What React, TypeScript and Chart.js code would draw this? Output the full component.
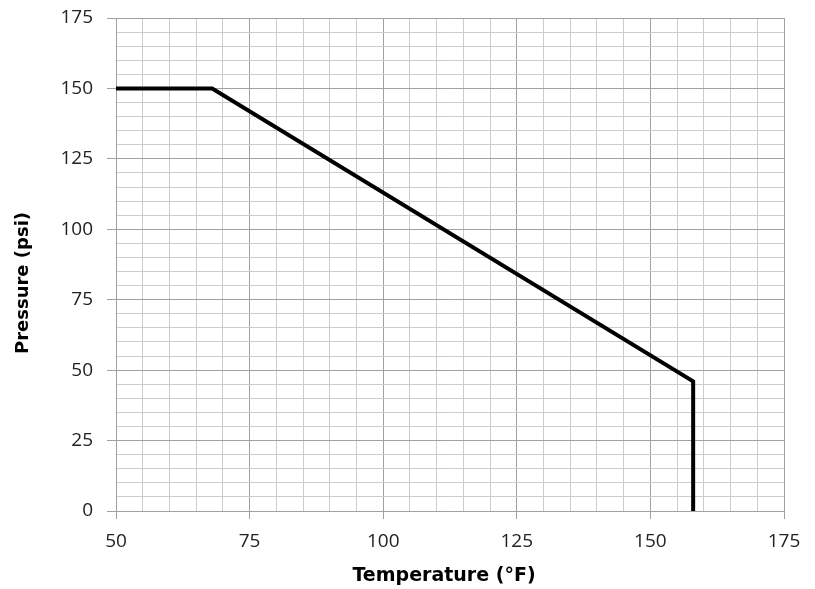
import React, { useEffect, useRef } from "react";
import { Chart, registerables } from "chart.js";

Chart.register(...registerables);

const temperatureF = [50, 68, 158, 158];
const pressurePsi = [150, 150, 46, 0];
const xTicks = [50, 75, 100, 125, 150, 175];
const yTicks = [0, 25, 50, 75, 100, 125, 150, 175];
const xTitle = "Temperature (°F)";
const yTitle = "Pressure (psi)";

const MAJOR = "#a0a0a0";
const MINOR = "#cccccc";
const FONT = "'Open Sans', sans-serif";

const titlesPlugin = {
  id: "titlesPlugin",
  afterDraw(chart: any) {
    const c = chart.ctx;
    c.save();
    c.fillStyle = "#000";
    c.textAlign = "center";
    c.textBaseline = "alphabetic";
    c.font = "bold 19px 'DejaVu Sans', sans-serif";
    c.fillText(xTitle, 444, 581);
    c.font = "bold 18px 'DejaVu Sans', sans-serif";
    c.translate(28, 283);
    c.rotate(-Math.PI / 2);
    c.fillText(yTitle, 0, 0);
    c.restore();
  },
};

export default function App() {
  const ref = useRef<HTMLCanvasElement | null>(null);
  useEffect(() => {
    document.body.style.margin = "0";
    if (!ref.current) return;
    const data = temperatureF.map((x, i) => ({ x, y: pressurePsi[i] }));
    const isMajor = (v: number) => Math.abs(v % 25) < 1e-6;
    const chart = new Chart(ref.current, {
      type: "scatter",
      data: {
        datasets: [
          {
            data,
            showLine: true,
            borderColor: "#000",
            borderWidth: 4,
            pointRadius: 0,
            borderJoinStyle: "miter",
            tension: 0,
          },
        ],
      },
      options: {
        animation: false,
        responsive: false,
        layout: { padding: { left: 0, top: 18, right: 31, bottom: 0 } },
        plugins: { legend: { display: false }, tooltip: { enabled: false } },
        scales: {
          x: {
            type: "linear",
            min: xTicks[0],
            max: xTicks[xTicks.length - 1],
            afterFit: (s: any) => {
              s.height = 78;
              s.paddingLeft = 0;
              s.paddingRight = 0;
              s.paddingTop = 0;
              s.paddingBottom = 0;
            },
            ticks: {
              stepSize: 5,
              autoSkip: false,
              maxRotation: 0,
              padding: 11,
              color: "#222",
              font: { family: FONT, size: 19 },
              callback: (v: any) => (xTicks.includes(Number(v)) ? String(v) : ""),
            },
            grid: {
              color: (ctx: any) => (isMajor(ctx.tick?.value ?? 0) ? MAJOR : MINOR),
              tickColor: (ctx: any) => (isMajor(ctx.tick?.value ?? 0) ? MAJOR : "rgba(0,0,0,0)"),
              tickLength: 8,
              lineWidth: 1,
            },
            border: { color: MAJOR, width: 1 },
          },
          y: {
            type: "linear",
            min: yTicks[0],
            max: yTicks[yTicks.length - 1],
            afterFit: (s: any) => {
              s.width = 116;
              s.paddingLeft = 0;
              s.paddingRight = 0;
              s.paddingTop = 0;
              s.paddingBottom = 0;
            },
            ticks: {
              stepSize: 5,
              autoSkip: false,
              padding: 14,
              color: "#222",
              font: { family: FONT, size: 19 },
              callback: (v: any) => (yTicks.includes(Number(v)) ? String(v) : ""),
            },
            grid: {
              color: (ctx: any) => (isMajor(ctx.tick?.value ?? 0) ? MAJOR : MINOR),
              tickColor: (ctx: any) => (isMajor(ctx.tick?.value ?? 0) ? MAJOR : "rgba(0,0,0,0)"),
              tickLength: 9,
              lineWidth: 1,
            },
            border: { color: MAJOR, width: 1 },
          },
        },
      },
      plugins: [titlesPlugin],
    } as any);
    return () => chart.destroy();
  }, []);
  return (
    <div style={{ width: 815, height: 589, background: "#fff" }}>
      <canvas ref={ref} width={815} height={589} style={{ display: "block" }} />
    </div>
  );
}
